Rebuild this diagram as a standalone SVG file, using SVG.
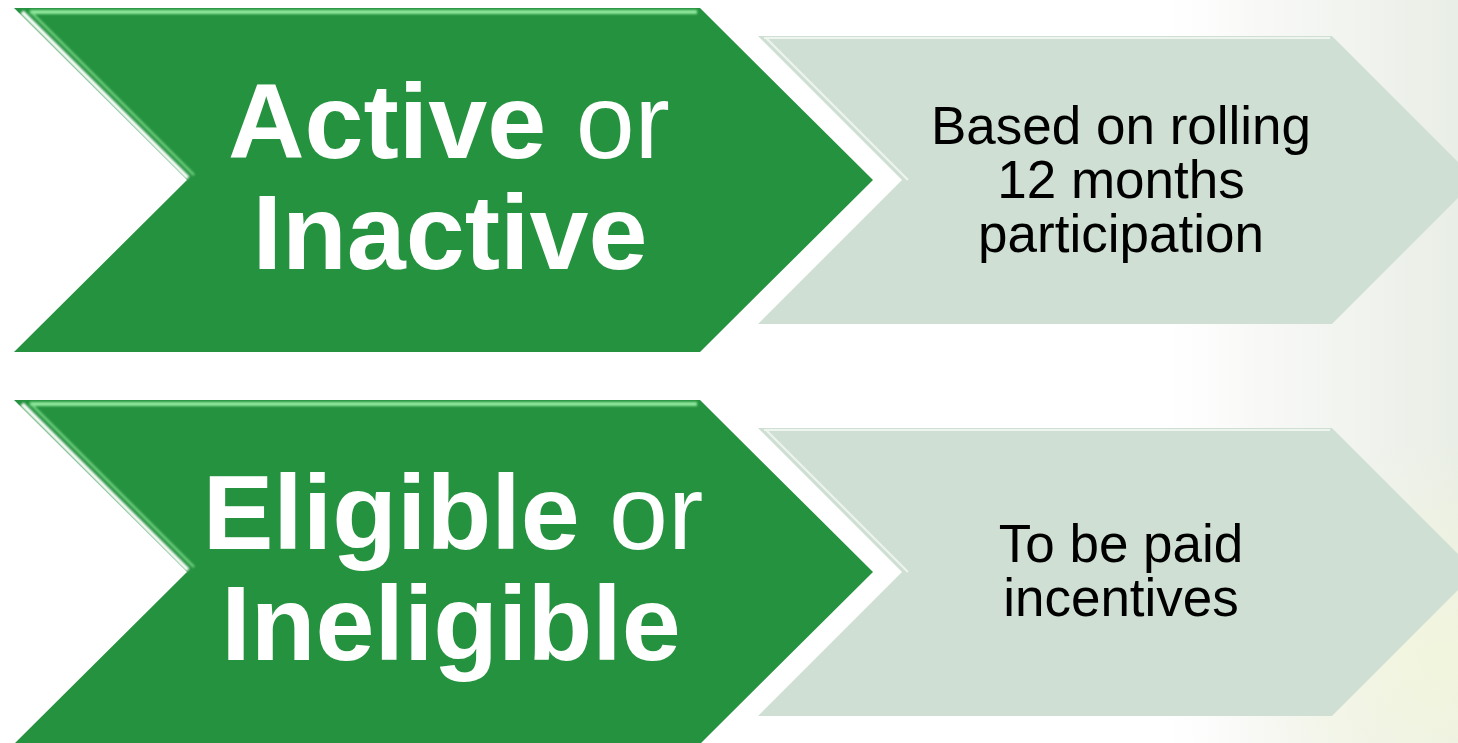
<svg xmlns="http://www.w3.org/2000/svg" width="1458" height="743" viewBox="0 0 1458 743">
  <defs>
    <linearGradient id="bg" x1="0" y1="0" x2="1" y2="0">
      <stop offset="0" stop-color="#ffffff"/>
      <stop offset="0.8" stop-color="#ffffff"/>
      <stop offset="0.92" stop-color="#f2f4f0"/>
      <stop offset="1" stop-color="#e9eee6"/>
    </linearGradient>
    <radialGradient id="glow" cx="1440" cy="660" r="220" gradientUnits="userSpaceOnUse">
      <stop offset="0" stop-color="#f3f6dc" stop-opacity="0.9"/>
      <stop offset="1" stop-color="#f3f6dc" stop-opacity="0"/>
    </radialGradient>
    <filter id="soft" x="-5%" y="-5%" width="110%" height="110%">
      <feGaussianBlur stdDeviation="0.8"/>
    </filter>
  </defs>
  <style>
    .green { fill: #25923f; }
    .gray { fill: #cfdfd3; }
    .hiTop { stroke: #8fe89d; stroke-width: 4; fill: none; }
    .hiEdge { stroke: #ffffff; stroke-width: 4; fill: none; }
    .hiEdge2 { stroke: #7fdc8e; stroke-width: 2; fill: none; }
    .grayEdge { stroke: #eef5ef; stroke-width: 2; fill: none; }
    .big { font-family: "Liberation Sans", Arial, sans-serif; font-size: 106px; fill: #ffffff; text-anchor: middle; }
    .b { font-weight: bold; }
    .small { font-family: "Liberation Sans", Arial, sans-serif; font-size: 53px; fill: #000000; text-anchor: middle; }
  </style>

  <rect x="0" y="0" width="1458" height="743" fill="url(#bg)"/>
  <rect x="1100" y="400" width="358" height="343" fill="url(#glow)"/>

  <g id="node-active">
    <polygon class="green" points="14,8 700,8 873,180 700,352 14,352 187,180"/>
    <g filter="url(#soft)">
      <polyline class="hiTop" points="30,12 697,12"/>
      <polyline class="hiEdge" points="22,12 188,178"/>
      <polyline class="hiEdge2" points="30,11 194,175"/>
    </g>
    <text class="big" x="449" y="158"><tspan class="b">Active</tspan> or</text>
    <text class="big b" x="450" y="269">Inactive</text>
  </g>

  <g id="node-rolling">
    <polygon class="gray" points="758,36 1332,36 1476,180 1332,324 758,324 902,180"/>
    <polyline class="grayEdge" points="764,38 1330,38"/>
    <polyline class="grayEdge" points="766,38 908,180"/>
    <text class="small" x="1121" y="144">Based on rolling</text>
    <text class="small" x="1121" y="198">12 months</text>
    <text class="small" x="1121" y="252">participation</text>
  </g>

  <g id="node-eligible">
    <polygon class="green" points="14,400 700,400 873,572 700,744 14,744 187,572"/>
    <g filter="url(#soft)">
      <polyline class="hiTop" points="30,404 697,404"/>
      <polyline class="hiEdge" points="22,404 188,570"/>
      <polyline class="hiEdge2" points="30,403 194,567"/>
    </g>
    <text class="big" x="453" y="549"><tspan class="b">Eligible</tspan> or</text>
    <text class="big b" x="451" y="660">Ineligible</text>
  </g>

  <g id="node-paid">
    <polygon class="gray" points="758,428 1332,428 1476,572 1332,716 758,716 902,572"/>
    <polyline class="grayEdge" points="764,430 1330,430"/>
    <polyline class="grayEdge" points="766,430 908,572"/>
    <text class="small" x="1121" y="562">To be paid</text>
    <text class="small" x="1121" y="616">incentives</text>
  </g>

  <g id="connectors"></g>
</svg>
